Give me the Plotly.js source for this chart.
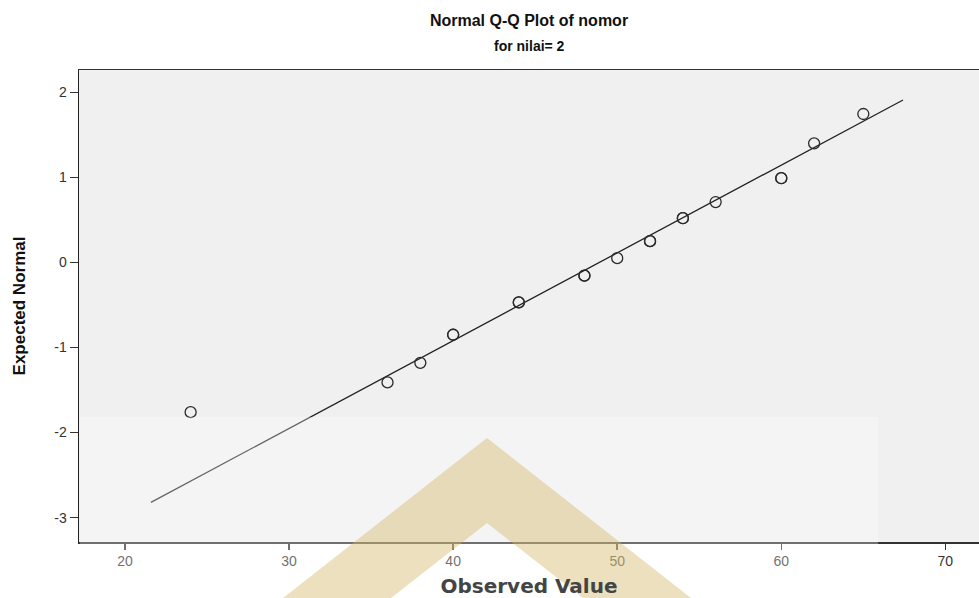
<!DOCTYPE html>
<html>
<head>
<meta charset="utf-8">
<script src="https://cdn.plot.ly/plotly-3.0.1.min.js"></script>
<style>html,body{margin:0;padding:0;background:#fff;}#chart{width:979px;height:598px;}</style>
</head>
<body>
<div id="chart"></div>
<script>
// Observed values (ties appear twice, drawn as overlapping circles)
const observed = [24, 36, 38, 40, 40, 44, 44, 48, 48, 50, 52, 52, 54, 54, 56, 60, 60, 62, 65];
const expectedNormal = [-1.76, -1.41, -1.18, -0.85, -0.85, -0.47, -0.47, -0.155, -0.155, 0.05, 0.25, 0.25, 0.52, 0.52, 0.71, 0.99, 0.99, 1.40, 1.745];
// Reference line end points
const refLineX = [21.58, 67.42];
const refLineY = [-2.82, 1.91];
// Ticks
const xTicks = [20, 30, 40, 50, 60, 70];
const yTicks = [-3, -2, -1, 0, 1, 2];

const traces = [
  {
    x: refLineX, y: refLineY, type: 'scatter', mode: 'lines',
    line: {color: '#222', width: 1.3}, hoverinfo: 'skip', showlegend: false
  },
  {
    x: observed, y: expectedNormal, type: 'scatter', mode: 'markers',
    marker: {symbol: 'circle-open', size: 11, color: '#2a2a2a', line: {width: 1.3, color: '#2a2a2a'}},
    showlegend: false
  }
];

const layout = {
  width: 979, height: 598,
  margin: {l: 79, r: 0, t: 70, b: 56, pad: 0},
  paper_bgcolor: '#ffffff',
  plot_bgcolor: '#f0f0f0',
  font: {family: 'Liberation Sans, Arial, sans-serif', color: '#333'},
  title: {
    text: 'Normal Q-Q Plot of nomor',
    font: {family: 'Liberation Sans, Arial, sans-serif', size: 16, weight: 700, color: '#111'},
    x: 0.5, xref: 'paper', xanchor: 'center',
    y: 1 - 20/598, yref: 'container', yanchor: 'middle'
  },
  annotations: [{
    text: 'for nilai= 2', showarrow: false,
    font: {family: 'Liberation Sans, Arial, sans-serif', size: 14, weight: 700, color: '#111'},
    xref: 'paper', yref: 'paper', x: 0.5, y: (542 - 46)/472, xanchor: 'center', yanchor: 'middle'
  }],
  xaxis: {
    range: [17.196, 72.05],
    tickvals: xTicks, ticktext: xTicks.map(String),
    ticks: 'outside', ticklen: 6, tickwidth: 1.5, tickcolor: '#333',
    showline: true, linecolor: '#333', linewidth: 1.5, mirror: true,
    showgrid: false, zeroline: false,
    tickfont: {family: 'Liberation Sans, Arial, sans-serif', size: 14, color: '#333'},
    title: {text: 'Observed Value', standoff: 11,
      font: {family: 'DejaVu Sans, sans-serif', size: 20, weight: 700, color: '#444'}}
  },
  yaxis: {
    range: [-3.286, 2.262],
    tickvals: yTicks, ticktext: yTicks.map(String),
    ticks: 'outside', ticklen: 8, tickwidth: 1.5, tickcolor: '#333',
    showline: true, linecolor: '#222', linewidth: 1.5,
    showgrid: false, zeroline: false,
    tickfont: {family: 'Liberation Sans, Arial, sans-serif', size: 14, color: '#333'},
    title: {text: 'Expected Normal', standoff: 24,
      font: {family: 'Liberation Sans Narrow, Arial Narrow, Liberation Sans, Arial, sans-serif', size: 17, weight: 700, color: '#111'}}
  },
  shapes: [
    {type: 'rect', xref: 'paper', yref: 'paper', x0: 0.001, x1: 0.888, y0: -0.119, y1: 0.2648,
     fillcolor: 'rgba(255,255,255,0.3)', line: {width: 0}, layer: 'above'},
    {type: 'path', xref: 'paper', yref: 'paper',
     path: 'M 0.2267,-0.1186 L 0.4533,0.2203 L 0.68,-0.1186 L 0.56,-0.1186 L 0.4533,0.0403 L 0.3467,-0.1186 Z',
     fillcolor: 'rgba(210,180,100,0.42)', line: {width: 0}, layer: 'above'}
  ]
};

Plotly.newPlot('chart', traces, layout, {staticPlot: true, displayModeBar: false});
</script>
</body>
</html>
